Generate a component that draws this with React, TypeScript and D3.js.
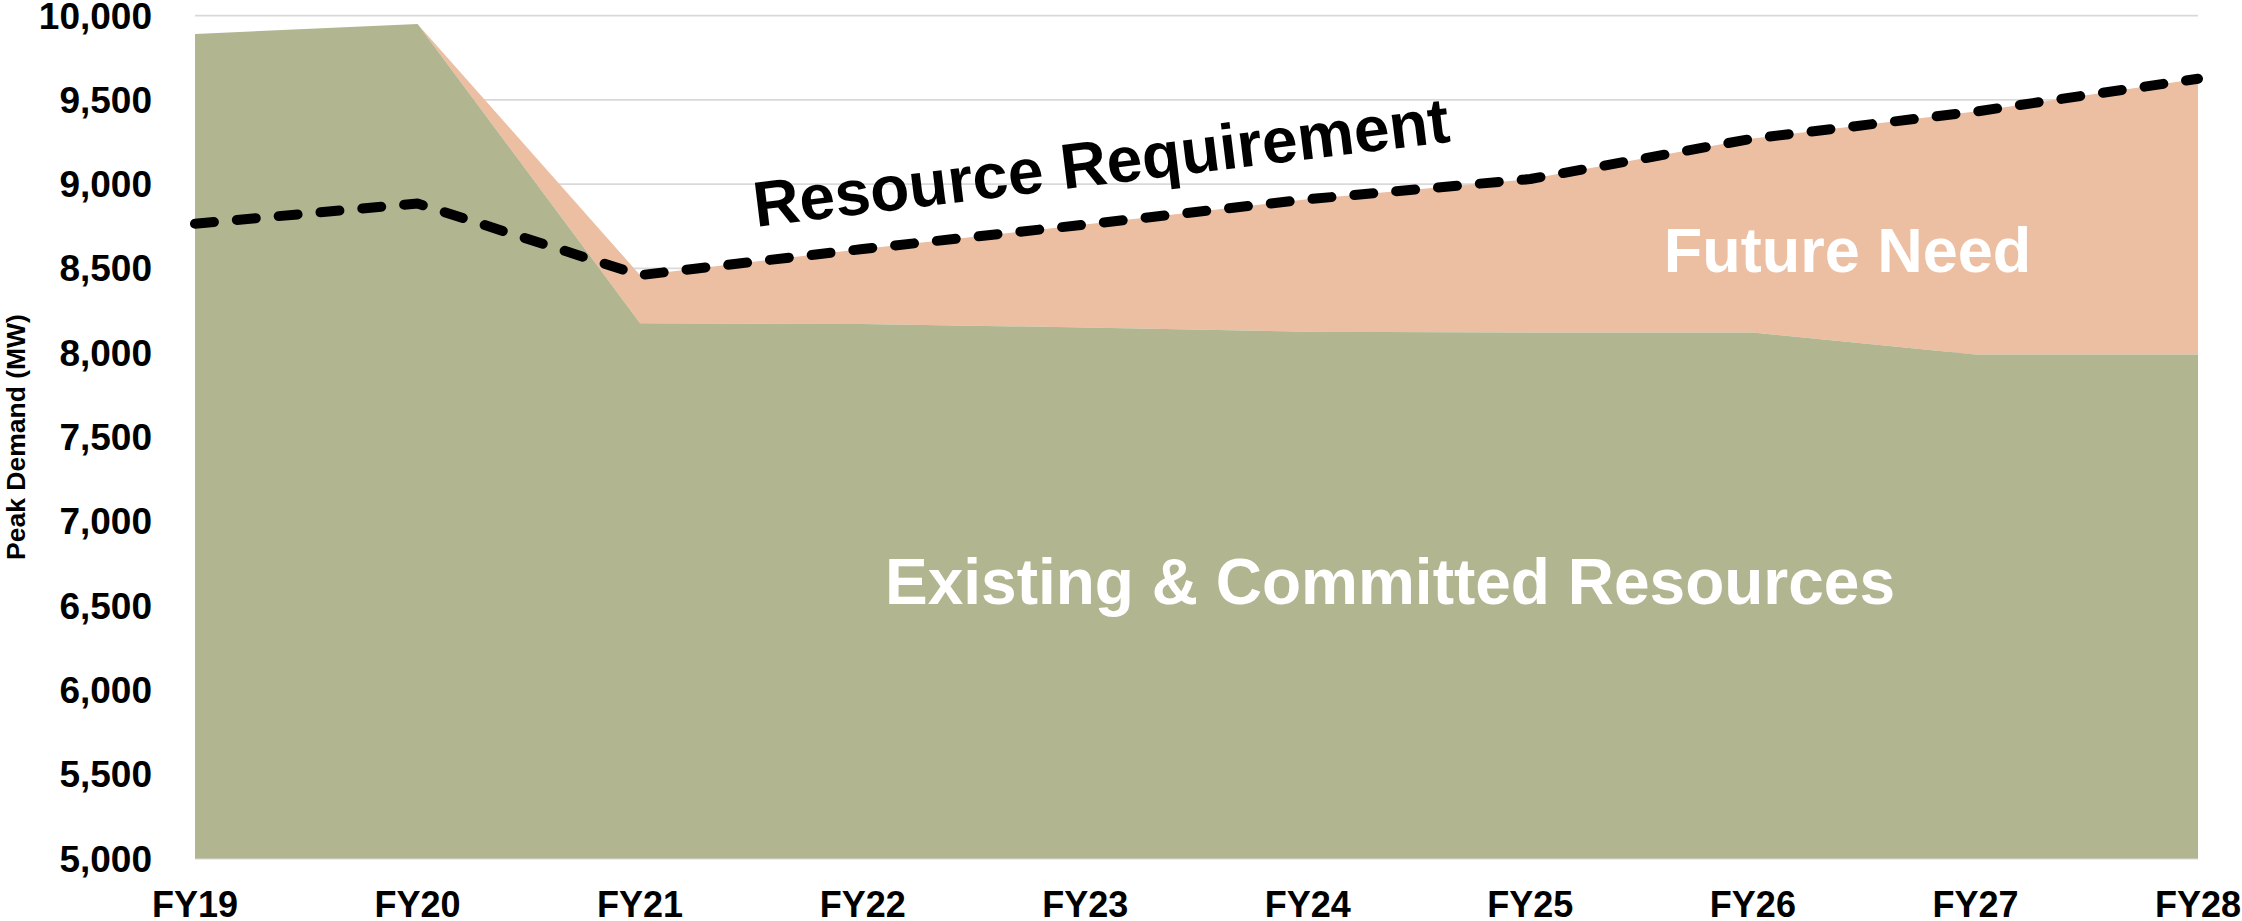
import React from "react";
import * as d3 from "d3";

const categories = ["FY19", "FY20", "FY21", "FY22", "FY23", "FY24", "FY25", "FY26", "FY27", "FY28"];
const existingCommitted = [9890, 9950, 8175, 8170, 8150, 8125, 8120, 8120, 7990, 7990];
const futureNeed = [0, 0, 285, 445, 610, 785, 910, 1150, 1440, 1635];
const resourceRequirement = [8765, 8885, 8460, 8615, 8760, 8910, 9030, 9270, 9430, 9625];
const yTicks = [5000, 5500, 6000, 6500, 7000, 7500, 8000, 8500, 9000, 9500, 10000];

const W = 2242;
const H = 921;
const plotLeft = 195;
const plotRight = 2198;
const plotTop = 15.5;
const plotBottom = 858.5;

const FONT = "'Liberation Sans', Arial, Helvetica, sans-serif";
const GREEN = "#b1b690";
const PEACH = "#ecbea2";

export default function App() {
  const x = d3.scalePoint<string>().domain(categories).range([plotLeft, plotRight]);
  const y = d3.scaleLinear().domain([5000, 10000]).range([plotBottom, plotTop]);
  const fmt = d3.format(",");

  const rows = categories.map((c, i) => ({
    c,
    e: existingCommitted[i],
    f: futureNeed[i],
    r: resourceRequirement[i],
  }));

  const greenArea = d3
    .area<any>()
    .x((d) => x(d.c)!)
    .y0(y(5000))
    .y1((d) => y(d.e));
  const peachArea = d3
    .area<any>()
    .x((d) => x(d.c)!)
    .y0((d) => y(d.e))
    .y1((d) => y(d.e + d.f));
  const reqLine = d3
    .line<any>()
    .x((d) => x(d.c)!)
    .y((d) => y(d.r));

  return (
    <div style={{ position: "absolute", left: 0, top: 0 }}>
      <svg width={W} height={H} style={{ display: "block", background: "#fff" }}>
        {yTicks.map((t) => (
          <line
            key={"g" + t}
            x1={plotLeft}
            x2={plotRight}
            y1={y(t)}
            y2={y(t)}
            stroke="#d9d9d9"
            strokeWidth={1.75}
          />
        ))}
        <path d={peachArea(rows) || ""} fill={PEACH} />
        <path d={greenArea(rows) || ""} fill={GREEN} />
        <path
          d={reqLine(rows) || ""}
          fill="none"
          stroke="#000"
          strokeWidth={10}
          strokeLinecap="round"
          strokeLinejoin="round"
          strokeDasharray="19 23"
        />
        {yTicks.map((t) => (
          <text
            key={"t" + t}
            x={152}
            y={y(t) + 13}
            textAnchor="end"
            fontFamily={FONT}
            fontWeight="bold"
            fontSize={37}
            fill="#000"
          >
            {fmt(t)}
          </text>
        ))}
        {categories.map((c) => (
          <text
            key={"x" + c}
            x={x(c)}
            y={917}
            textAnchor="middle"
            fontFamily={FONT}
            fontWeight="bold"
            fontSize={36}
            fill="#000"
          >
            {c}
          </text>
        ))}
        <text
          transform={`translate(25, ${(plotTop + plotBottom) / 2}) rotate(-90)`}
          textAnchor="middle"
          fontFamily={FONT}
          fontWeight="bold"
          fontSize={26.5}
          fill="#000"
        >
          Peak Demand (MW)
        </text>
        <text
          transform="translate(756, 227) rotate(-7)"
          fontFamily={FONT}
          fontWeight="bold"
          fontSize={64}
          fill="#000"
        >
          Resource Requirement
        </text>
        <text
          x={1847.5}
          y={272}
          textAnchor="middle"
          fontFamily={FONT}
          fontWeight="bold"
          fontSize={63}
          fill="#fff"
        >
          Future Need
        </text>
        <text
          x={1390}
          y={604}
          textAnchor="middle"
          fontFamily={FONT}
          fontWeight="bold"
          fontSize={64}
          fill="#fff"
        >
          Existing &amp; Committed Resources
        </text>
      </svg>
    </div>
  );
}
